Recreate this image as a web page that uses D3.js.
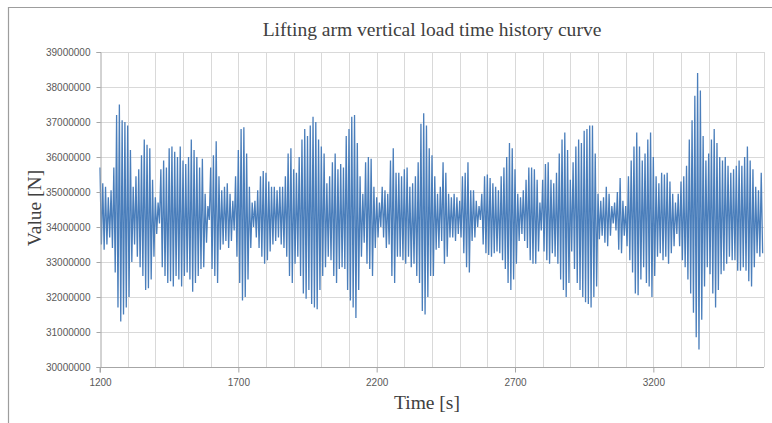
<!DOCTYPE html>
<html>
<head>
<meta charset="utf-8">
<script src="https://cdn.jsdelivr.net/npm/d3@7"></script>
<style>
    body { margin: 0; background: #ffffff; }
    svg { display: block; }
</style>
</head>
<body>
<div id="loadChart"></div>
<script>
// envelope of the load signal, one cycle every 10 s (values in MN)
var timeStart = 1200,
    timeStep = 10;

var upperMN = [
    35.7, 35.25, 35.15, 34.85, 35.05, 35.7, 37.2, 37.5, 37.05, 37.0,
    36.9, 36.2, 35.15, 35.45, 35.65, 36.05, 36.5, 36.35, 36.25, 35.35,
    34.85, 34.7, 35.65, 35.9, 35.7, 36.25, 36.3, 36.15, 36.0, 36.3,
    35.9, 35.8, 36.0, 36.5, 36.2, 36.0, 35.7, 35.95, 34.95, 34.6,
    35.7, 36.05, 36.45, 35.45, 35.05, 35.15, 35.25, 34.95, 34.75, 35.45,
    36.2, 36.8, 36.85, 36.1, 35.15, 34.7, 34.75, 35.05, 35.45, 35.6,
    35.55, 35.3, 35.15, 35.15, 35.05, 35.15, 35.15, 35.45, 36.1, 36.25,
    35.65, 35.55, 36.0, 36.5, 36.8, 36.6, 36.9, 37.15, 37.0, 36.5,
    36.3, 36.1, 35.25, 35.45, 35.85, 36.1, 35.65, 35.8, 35.7, 36.6,
    36.8, 37.15, 37.2, 36.4, 35.45, 34.95, 35.85, 36.0, 35.95, 35.15,
    34.85, 34.7, 35.15, 35.05, 34.95, 35.9, 36.25, 35.55, 35.55, 35.45,
    35.65, 35.7, 35.15, 35.25, 35.45, 35.85, 36.95, 37.25, 36.9, 36.25,
    36.05, 35.45, 34.95, 35.15, 35.85, 35.55, 34.95, 34.85, 34.95, 34.85,
    34.75, 35.45, 35.55, 35.85, 35.05, 35.05, 34.75, 34.6, 34.95, 35.45,
    35.5, 35.4, 35.25, 35.15, 35.05, 35.45, 35.7, 36.0, 36.4, 36.25,
    35.65, 34.95, 34.85, 35.05, 35.35, 35.7, 35.7, 35.65, 35.35, 34.7,
    35.35, 35.8, 35.85, 35.35, 35.25, 35.55, 36.1, 36.5, 36.7, 36.2,
    35.35, 35.85, 36.3, 36.5, 36.4, 36.75, 36.8, 36.9, 36.9, 36.1,
    34.95, 34.75, 34.85, 35.15, 34.95, 34.6, 34.7, 35.0, 35.4, 34.75,
    34.6, 35.45, 35.9, 36.3, 36.7, 36.3, 35.9, 36.1, 36.5, 36.7,
    36.0, 35.45, 35.25, 35.55, 35.5, 35.55, 35.3, 34.95, 34.7, 34.95,
    35.3, 35.45, 35.75, 36.5, 37.05, 37.75, 38.4, 37.9, 36.6, 35.9,
    36.1, 36.5, 36.8, 36.4, 36.0, 35.9, 36.0, 35.75, 35.55, 35.65,
    35.75, 35.9, 35.75, 36.0, 36.3, 35.9, 35.65, 35.15, 35.05, 35.55
];

var lowerMN = [
    33.5, 33.35, 33.5, 33.7, 33.4, 32.7, 31.7, 31.3, 31.5, 31.7,
    32.0, 33.0, 33.5, 33.15, 32.85, 32.6, 32.2, 32.25, 32.5, 33.15,
    33.8, 34.1, 32.85, 32.6, 32.4, 32.45, 32.3, 32.6, 32.5, 32.3,
    32.6, 32.7, 32.5, 32.15, 32.4, 32.6, 32.8, 32.85, 33.55, 34.2,
    32.8, 32.6, 32.4, 33.35, 33.5, 33.6, 33.4, 33.6, 33.9, 33.15,
    32.4, 31.9, 32.0, 32.5, 33.4, 34.0, 33.7, 33.4, 33.15, 32.95,
    33.05, 33.3, 33.5, 33.6, 33.7, 33.5, 33.4, 33.15, 32.6, 32.4,
    32.95, 33.15, 32.6, 32.1, 31.95, 32.2, 31.8, 31.7, 31.65, 32.2,
    32.6, 32.85, 33.15, 33.05, 32.6, 32.4, 32.8, 32.85, 32.8, 32.2,
    31.9, 31.7, 31.4, 32.2, 33.15, 33.55, 32.95, 32.8, 32.6, 33.4,
    33.7, 34.0, 33.7, 33.4, 33.5, 32.6, 32.4, 33.15, 33.15, 33.05,
    32.95, 33.15, 32.85, 32.95, 32.6, 32.4, 31.6, 31.5, 32.0, 32.6,
    32.6, 33.35, 33.4, 33.6, 32.95, 33.15, 33.7, 33.7, 33.6, 33.8,
    33.7, 33.25, 32.85, 32.7, 33.6, 33.7, 34.0, 34.2, 33.5, 33.25,
    33.2, 33.15, 33.25, 33.3, 33.25, 33.05, 32.8, 32.4, 32.2, 32.5,
    32.95, 33.6, 33.8, 33.6, 33.4, 33.05, 32.95, 32.95, 33.3, 33.9,
    33.3, 33.05, 32.95, 33.25, 33.15, 32.95, 32.5, 32.2, 32.0, 32.4,
    33.3, 32.8, 32.4, 32.2, 32.0, 31.85, 31.8, 31.7, 32.0, 32.3,
    33.65, 33.75, 33.55, 33.45, 33.75, 34.1, 33.9, 33.35, 33.25, 33.75,
    33.45, 33.05, 32.7, 32.1, 32.05, 32.5, 32.85, 32.4, 32.3, 32.0,
    32.6, 33.15, 33.25, 33.05, 33.15, 32.95, 33.25, 33.45, 33.8, 33.45,
    33.05, 32.85, 32.5, 32.1, 31.55, 30.85, 30.5, 31.35, 32.3, 32.85,
    32.65, 32.1, 31.7, 32.2, 32.65, 32.75, 32.95, 33.15, 33.05, 33.05,
    32.75, 32.75, 32.85, 32.75, 32.45, 32.3, 32.85, 33.25, 33.15, 33.25
];

var xTicks = [1200, 1700, 2200, 2700, 3200];
var yTicks = [30000000, 31000000, 32000000, 33000000, 34000000,
    35000000, 36000000, 37000000, 38000000, 39000000];

var titleText = "Lifting arm vertical load time history curve";
var xLabel = "Time [s]";
var yLabel = "Value [N]";

createChart = function() {
    var width = 772,
        height = 423;
    var left = 100,
        right = 764,
        top = 52,
        bottom = 367;

    var svg = d3.select("#loadChart").append("svg")
        .attr("width", width)
        .attr("height", height);

    // outer frame of the figure (top and left edges visible)
    svg.append("path")
        .attr("d", "M8.5,423V7.5H772")
        .attr("fill", "none")
        .attr("stroke", "#9d9d9d")
        .attr("stroke-width", 1.2);

    var x = d3.scaleLinear()
        .domain([1200, 3600])
        .range([left, right]);
    var y = d3.scaleLinear()
        .domain([30000000, 39000000])
        .range([bottom, top]);

    // gridlines
    svg.append("g")
        .selectAll("line")
        .data(d3.range(1300, 3601, 100))
        .enter()
        .append("line")
        .attr("x1", d => Math.round(x(d)) + 0.5)
        .attr("x2", d => Math.round(x(d)) + 0.5)
        .attr("y1", top)
        .attr("y2", bottom)
        .attr("stroke", "#d9d9d9");
    svg.append("g")
        .selectAll("line")
        .data(yTicks.slice(1))
        .enter()
        .append("line")
        .attr("x1", left)
        .attr("x2", right)
        .attr("y1", d => Math.round(y(d)) + 0.5)
        .attr("y2", d => Math.round(y(d)) + 0.5)
        .attr("stroke", "#d9d9d9");

    // the signal: each cycle goes up to the upper peak and down to the lower peak
    var points = [];
    for (var i = 0; i < upperMN.length; i++) {
        var t = timeStart + i * timeStep;
        points.push([t, upperMN[i] * 1e6]);
        points.push([t + timeStep / 2, lowerMN[i] * 1e6]);
    }
    var line = d3.line()
        .x(d => x(d[0]))
        .y(d => y(d[1]));
    svg.append("path")
        .datum(points)
        .attr("d", line)
        .attr("fill", "none")
        .attr("stroke", "#4a7ebb")
        .attr("stroke-width", 1.3)
        .attr("stroke-linejoin", "miter");

    // axes
    var yAxis = svg.append("g")
        .attr("transform", "translate(" + (left + 0.5) + ",0)")
        .call(d3.axisLeft(y)
            .tickValues(yTicks)
            .tickFormat(d3.format("d"))
            .tickSize(4)
            .tickPadding(6));
    var xAxis = svg.append("g")
        .attr("transform", "translate(0," + (bottom + 0.5) + ")")
        .call(d3.axisBottom(x)
            .tickValues(xTicks)
            .tickFormat(d3.format("d"))
            .tickSize(5)
            .tickPadding(6));
    [xAxis, yAxis].forEach(function(a) {
        a.select(".domain").attr("stroke", "#a6a6a6");
        a.selectAll(".tick line").attr("stroke", "#a6a6a6");
        a.selectAll(".tick text")
            .attr("fill", "#595959")
            .attr("font-family", "'Liberation Sans', Arial, sans-serif")
            .attr("font-size", 10);
    });
    yAxis.selectAll(".tick text").attr("dy", "0.35em");
    xAxis.select(".domain").attr("d", "M" + left + ",5V0H" + right);

    // titles
    var title = svg.append("text")
        .attr("x", 432)
        .attr("y", 36)
        .attr("text-anchor", "middle")
        .attr("font-family", "'Liberation Serif', 'Times New Roman', serif")
        .attr("font-size", 20)
        .attr("fill", "#404040")
        .text(titleText);
    var tw = title.node().getComputedTextLength();
    title.attr("font-size", 20 * 339 / tw);

    svg.append("text")
        .attr("x", 427)
        .attr("y", 409)
        .attr("text-anchor", "middle")
        .attr("font-family", "'Liberation Serif', 'Times New Roman', serif")
        .attr("font-size", 19.5)
        .attr("fill", "#404040")
        .text(xLabel);

    svg.append("text")
        .attr("transform", "translate(41,208) rotate(-90)")
        .attr("text-anchor", "middle")
        .attr("font-family", "'Liberation Serif', 'Times New Roman', serif")
        .attr("font-size", 19.5)
        .attr("fill", "#404040")
        .text(yLabel);
}

createChart();
</script>
</body>
</html>
